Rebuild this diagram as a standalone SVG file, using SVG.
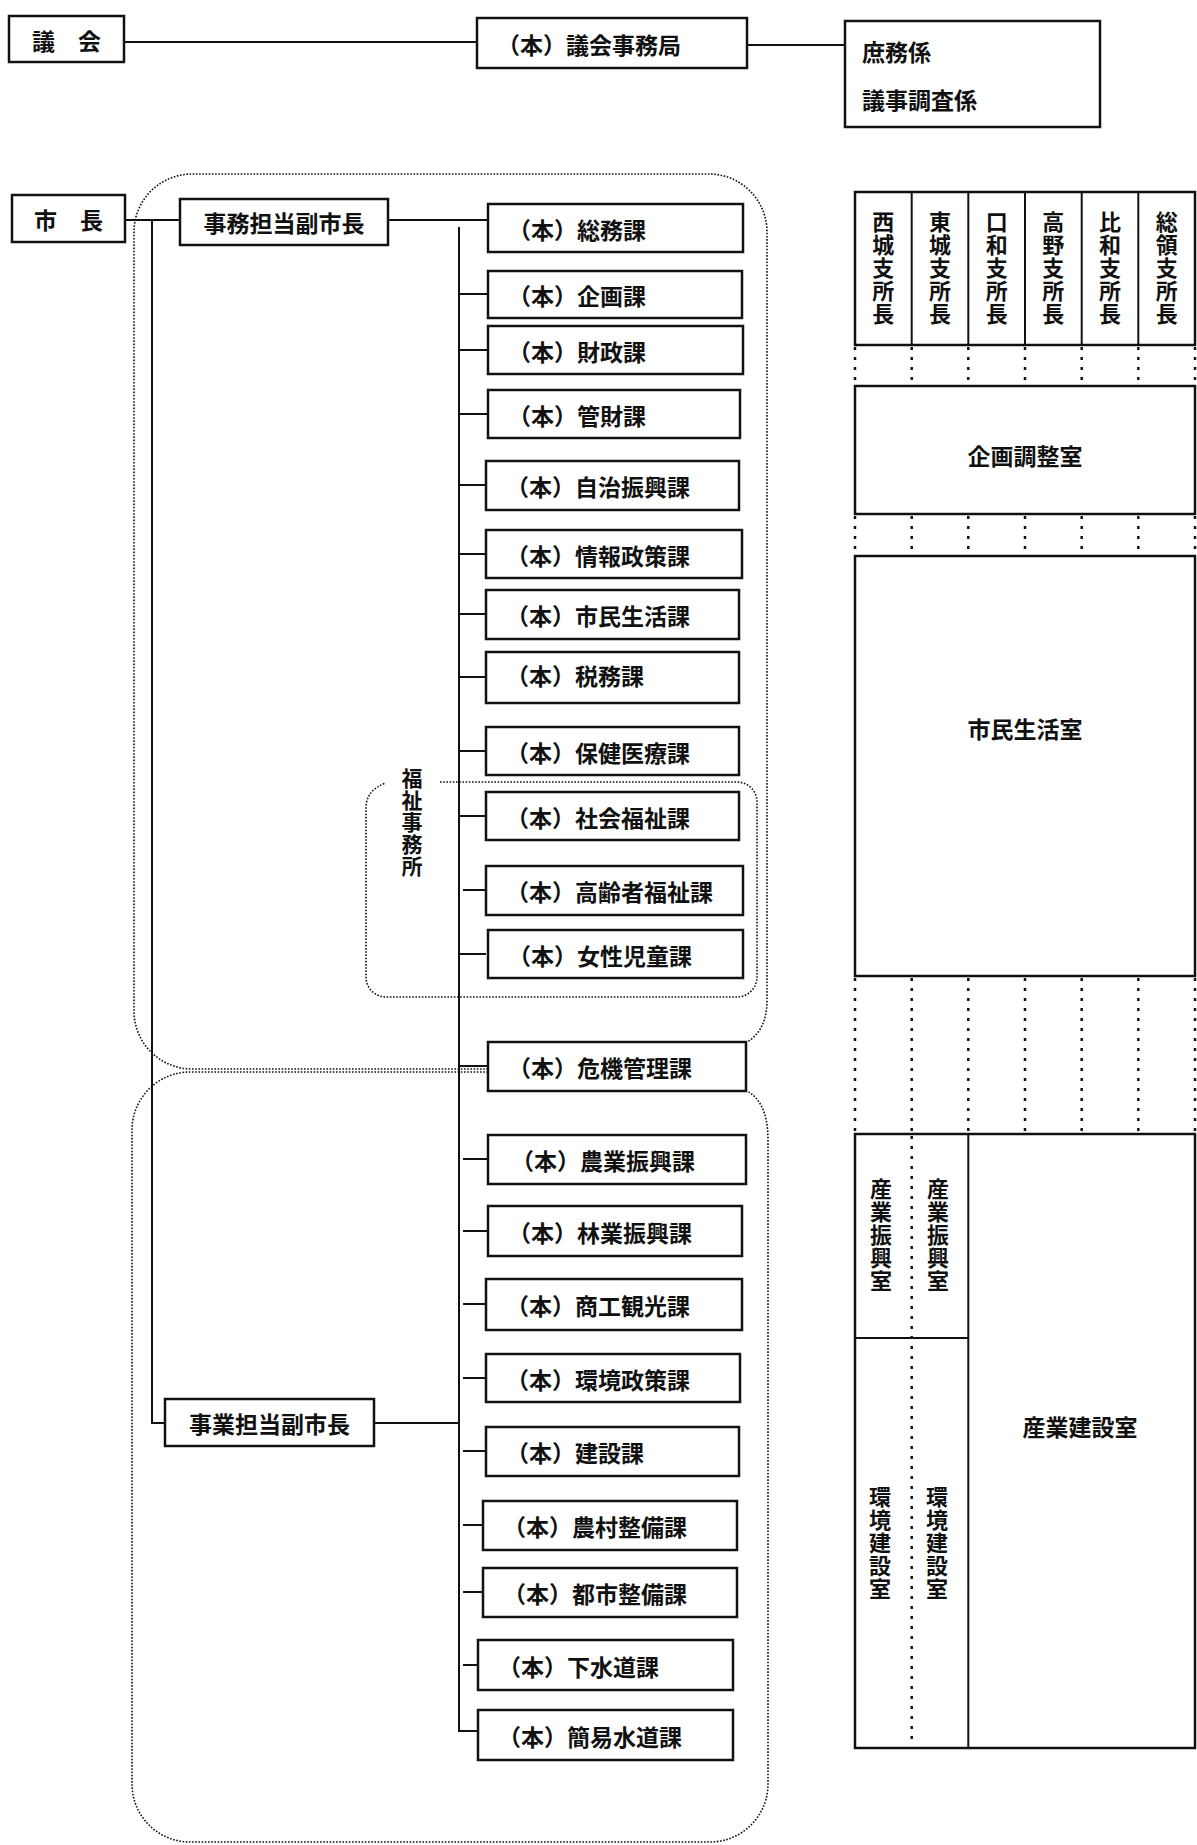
<svg xmlns="http://www.w3.org/2000/svg" width="1197" height="1845" viewBox="0 0 1197 1845">
<style>
.box{fill:#fff;stroke:#111;stroke-width:2.5}
.ln{stroke:#111;stroke-width:2;fill:none}
.grp{stroke:#111;stroke-width:1.6;fill:none;stroke-dasharray:1.6 1.6}
.dl{stroke:#111;stroke-width:2.5;fill:none;stroke-dasharray:3 7}
.t{font-family:"Noto Sans CJK JP","Noto Sans CJK SC",sans-serif;font-size:23px;font-weight:bold;fill:#111;dominant-baseline:central}
.c{text-anchor:middle}
.v{font-family:"Noto Sans CJK JP","Noto Sans CJK SC",sans-serif;font-size:22px;font-weight:bold;fill:#111;writing-mode:vertical-rl;text-orientation:upright;letter-spacing:1px}
.vs{font-size:21px}
</style>
<rect width="1197" height="1845" fill="#fff"/>

<g id="groups">
<path class="grp" d="M488,1069 H192 A58,58 0 0 1 134,1011 V232 A58,58 0 0 1 192,174 H709 A58,58 0 0 1 767,232 V1000 C767,1025 757,1036 747,1042"/>
<path class="grp" d="M488,1072 H190 A58,58 0 0 0 132,1130 V1784 A58,58 0 0 0 190,1842 H710 A58,58 0 0 0 768,1784 V1140 C768,1110 758,1097 747,1091"/>
<path class="grp" d="M440,782 H737 A20,20 0 0 1 757,802 V977 A20,20 0 0 1 737,997 H386 A20,20 0 0 1 366,977 V808 Q366,790 386,783"/>
</g>

<g id="connectors">
<line class="ln" x1="124" y1="42" x2="477" y2="42"/>
<line class="ln" x1="747" y1="45" x2="845" y2="45"/>
<line class="ln" x1="125" y1="220" x2="180" y2="220"/>
<polyline class="ln" points="152,220 152,1423 165,1423"/>
<line class="ln" x1="388" y1="220" x2="488" y2="220"/>
<polyline class="ln" points="459,227 459,1731 478,1731"/>
<line class="ln" x1="374" y1="1423" x2="459" y2="1423"/>
<line class="ln" x1="459" y1="294" x2="488" y2="294"/>
<line class="ln" x1="459" y1="350" x2="488" y2="350"/>
<line class="ln" x1="459" y1="414" x2="488" y2="414"/>
<line class="ln" x1="459" y1="485" x2="486" y2="485"/>
<line class="ln" x1="459" y1="554" x2="486" y2="554"/>
<line class="ln" x1="459" y1="614" x2="486" y2="614"/>
<line class="ln" x1="459" y1="677" x2="486" y2="677"/>
<line class="ln" x1="459" y1="751" x2="486" y2="751"/>
<line class="ln" x1="459" y1="816" x2="486" y2="816"/>
<line class="ln" x1="463" y1="890" x2="486" y2="890"/>
<line class="ln" x1="459" y1="954" x2="486" y2="954"/>
<line class="ln" x1="459" y1="1066" x2="488" y2="1066"/>
<line class="ln" x1="463" y1="1159" x2="488" y2="1159"/>
<line class="ln" x1="463" y1="1231" x2="488" y2="1231"/>
<line class="ln" x1="463" y1="1304" x2="486" y2="1304"/>
<line class="ln" x1="463" y1="1378" x2="486" y2="1378"/>
<line class="ln" x1="463" y1="1451" x2="486" y2="1451"/>
<line class="ln" x1="463" y1="1525" x2="483" y2="1525"/>
<line class="ln" x1="463" y1="1592" x2="483" y2="1592"/>
<line class="ln" x1="463" y1="1665" x2="478" y2="1665"/>
</g>

<g id="gikai"><rect class="box" x="9" y="16" width="115" height="46"/><text class="t c" x="66.5" y="40">議　会</text></g>
<g id="gikai-jimukyoku"><rect class="box" x="477" y="18" width="270" height="50"/><text class="t" x="497" y="44">（本）議会事務局</text></g>
<g id="kakari"><rect class="box" x="845" y="21" width="255" height="106"/><text class="t" x="862" y="51">庶務係</text><text class="t" x="862" y="99">議事調査係</text></g>

<g id="shicho"><rect class="box" x="12" y="195" width="113" height="47"/><text class="t c" x="68.5" y="219">市　長</text></g>
<g id="jimu-fuku"><rect class="box" x="180" y="199" width="208" height="46"/><text class="t c" x="284" y="222">事務担当副市長</text></g>
<g id="jigyo-fuku"><rect class="box" x="165" y="1399" width="209" height="47"/><text class="t c" x="269.5" y="1423">事業担当副市長</text></g>

<g id="k1"><rect class="box" x="488" y="204" width="255" height="48"/><text class="t" x="508" y="229">（本）総務課</text></g>
<g id="k2"><rect class="box" x="488" y="271" width="254" height="47"/><text class="t" x="508" y="295">（本）企画課</text></g>
<g id="k3"><rect class="box" x="488" y="326" width="255" height="48"/><text class="t" x="508" y="351">（本）財政課</text></g>
<g id="k4"><rect class="box" x="488" y="390" width="252" height="48"/><text class="t" x="508" y="415">（本）管財課</text></g>
<g id="k5"><rect class="box" x="486" y="461" width="253" height="49"/><text class="t" x="506" y="486">（本）自治振興課</text></g>
<g id="k6"><rect class="box" x="486" y="530" width="256" height="48"/><text class="t" x="506" y="555">（本）情報政策課</text></g>
<g id="k7"><rect class="box" x="486" y="590" width="253" height="49"/><text class="t" x="506" y="615">（本）市民生活課</text></g>
<g id="k8"><rect class="box" x="486" y="652" width="253" height="51"/><text class="t" x="506" y="675">（本）税務課</text></g>
<g id="k9"><rect class="box" x="486" y="727" width="253" height="48"/><text class="t" x="506" y="752">（本）保健医療課</text></g>
<g id="k10"><rect class="box" x="486" y="792" width="253" height="48"/><text class="t" x="506" y="817">（本）社会福祉課</text></g>
<g id="k11"><rect class="box" x="486" y="866" width="257" height="49"/><text class="t" x="506" y="891">（本）高齢者福祉課</text></g>
<g id="k12"><rect class="box" x="488" y="930" width="255" height="48"/><text class="t" x="508" y="955">（本）女性児童課</text></g>
<g id="k13"><rect class="box" x="488" y="1042" width="258" height="49"/><text class="t" x="508" y="1067">（本）危機管理課</text></g>
<g id="k14"><rect class="box" x="488" y="1135" width="258" height="49"/><text class="t" x="511" y="1160">（本）農業振興課</text></g>
<g id="k15"><rect class="box" x="488" y="1206" width="254" height="50"/><text class="t" x="508" y="1232">（本）林業振興課</text></g>
<g id="k16"><rect class="box" x="486" y="1279" width="256" height="51"/><text class="t" x="506" y="1305">（本）商工観光課</text></g>
<g id="k17"><rect class="box" x="486" y="1354" width="254" height="48"/><text class="t" x="506" y="1379">（本）環境政策課</text></g>
<g id="k18"><rect class="box" x="486" y="1427" width="253" height="49"/><text class="t" x="506" y="1452">（本）建設課</text></g>
<g id="k19"><rect class="box" x="483" y="1501" width="254" height="49"/><text class="t" x="503" y="1526">（本）農村整備課</text></g>
<g id="k20"><rect class="box" x="483" y="1568" width="254" height="49"/><text class="t" x="503" y="1593">（本）都市整備課</text></g>
<g id="k21"><rect class="box" x="478" y="1640" width="255" height="50"/><text class="t" x="498" y="1666">（本）下水道課</text></g>
<g id="k22"><rect class="box" x="478" y="1710" width="255" height="50"/><text class="t" x="498" y="1736">（本）簡易水道課</text></g>

<g id="fukushi-label"><text class="v vs" x="412" y="768">福祉事務所</text></g>

<g id="shisho">
<rect class="box" x="855" y="192" width="340" height="153"/>
<line class="ln" x1="911.7" y1="192" x2="911.7" y2="345"/>
<line class="ln" x1="968.3" y1="192" x2="968.3" y2="345"/>
<line class="ln" x1="1025" y1="192" x2="1025" y2="345"/>
<line class="ln" x1="1081.7" y1="192" x2="1081.7" y2="345"/>
<line class="ln" x1="1138.3" y1="192" x2="1138.3" y2="345"/>
<text class="v" x="883.3" y="211">西城支所長</text>
<text class="v" x="940" y="211">東城支所長</text>
<text class="v" x="996.7" y="211">口和支所長</text>
<text class="v" x="1053.3" y="211">高野支所長</text>
<text class="v" x="1110" y="211">比和支所長</text>
<text class="v" x="1166.7" y="211">総領支所長</text>
</g>

<g id="dots">
<path class="dl" d="M855,347 V386 M911.7,347 V386 M968.3,347 V386 M1025,347 V386 M1081.7,347 V386 M1138.3,347 V386 M1195,347 V386"/>
<path class="dl" d="M855,516 V556 M911.7,516 V556 M968.3,516 V556 M1025,516 V556 M1081.7,516 V556 M1138.3,516 V556 M1195,516 V556"/>
<path class="dl" d="M855,978 V1134 M911.7,978 V1134 M968.3,978 V1134 M1025,978 V1134 M1081.7,978 V1134 M1138.3,978 V1134 M1195,978 V1134"/>
</g>

<g id="kikaku"><rect class="box" x="855" y="386" width="340" height="128"/><text class="t c" x="1025" y="455">企画調整室</text></g>
<g id="shimin"><rect class="box" x="855" y="556" width="340" height="420"/><text class="t c" x="1025" y="728">市民生活室</text></g>

<g id="sangyo">
<rect class="box" x="855" y="1134" width="340" height="614"/>
<line class="ln" x1="968.3" y1="1134" x2="968.3" y2="1748"/>
<line class="ln" x1="855" y1="1338" x2="968.3" y2="1338"/>
<line class="dl" x1="911.7" y1="1136" x2="911.7" y2="1744"/>
<text class="v" x="881" y="1178">産業振興室</text>
<text class="v" x="938" y="1178">産業振興室</text>
<text class="v" x="880" y="1486">環境建設室</text>
<text class="v" x="937" y="1486">環境建設室</text>
<text class="t c" x="1080" y="1426">産業建設室</text>
</g>
</svg>
